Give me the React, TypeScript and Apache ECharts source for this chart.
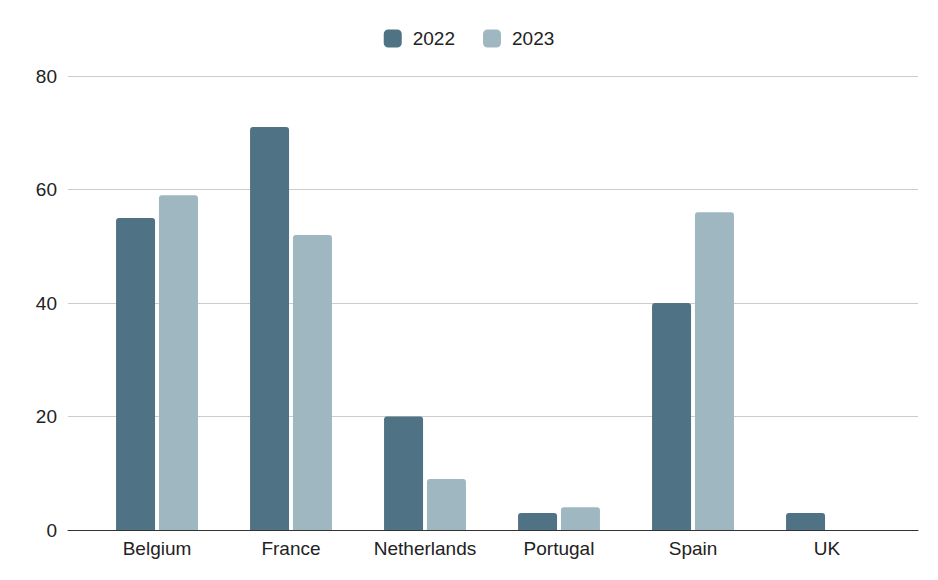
import React, { useEffect, useRef } from "react";
import * as echarts from "echarts";

const categories = ["Belgium", "France", "Netherlands", "Portugal", "Spain", "UK"];
const values2022 = [55, 71, 20, 3, 40, 3];
const values2023 = [59, 52, 9, 4, 56, null];
const seriesNames = ["2022", "2023"];
const colors = ["#4f7284", "#9fb7c1"];

export default function App() {
  const ref = useRef<HTMLDivElement>(null);
  useEffect(() => {
    if (!ref.current) return;
    const chart = echarts.init(ref.current, null, { renderer: "svg" });
    const font = "Liberation Sans, Arial, sans-serif";
    chart.setOption({
      animation: false,
      textStyle: { fontFamily: font },
      legend: {
        top: 24,
        left: "center",
        itemWidth: 18,
        itemHeight: 18,
        itemGap: 28,
        icon: "roundRect",
        textStyle: { fontSize: 19, color: "#222", fontFamily: font, padding: [0, 0, 0, 6] },
        data: seriesNames,
      },
      grid: [
        { left: 68, right: 20, top: 76, bottom: 50 },
        { left: 90, right: 44, top: 76, bottom: 50 },
      ],
      xAxis: [
        {
          type: "value",
          gridIndex: 0,
          min: 0,
          max: 1,
          axisLabel: { show: false },
          axisTick: { show: false },
          splitLine: { show: false },
          axisLine: { show: true, lineStyle: { color: "#333", width: 1 } },
        },
        {
          type: "category",
          gridIndex: 1,
          data: categories,
          axisLine: { show: false },
          axisTick: { show: false },
          axisLabel: { fontSize: 19, color: "#222", margin: 9, fontFamily: font },
        },
      ],
      yAxis: [
        {
          type: "value",
          gridIndex: 0,
          min: 0,
          max: 80,
          interval: 20,
          axisLine: { show: false },
          axisTick: { show: false },
          axisLabel: { fontSize: 19, color: "#222", margin: 11, fontFamily: font },
          splitLine: { lineStyle: { color: "#cccccc", width: 1 } },
        },
        {
          type: "value",
          gridIndex: 1,
          min: 0,
          max: 80,
          interval: 20,
          show: false,
        },
      ],
      series: [
        {
          name: seriesNames[0],
          type: "bar",
          xAxisIndex: 1,
          yAxisIndex: 1,
          data: values2022,
          barWidth: 39,
          barGap: "10%",
          itemStyle: { color: colors[0], borderRadius: [3, 3, 0, 0] },
        },
        {
          name: seriesNames[1],
          type: "bar",
          xAxisIndex: 1,
          yAxisIndex: 1,
          data: values2023,
          barWidth: 39,
          barGap: "10%",
          itemStyle: { color: colors[1], borderRadius: [3, 3, 0, 0] },
        },
      ],
    });
    return () => chart.dispose();
  }, []);
  return (
    <div
      ref={ref}
      style={{ position: "fixed", left: 0, top: 0, width: 938, height: 580, background: "#fff" }}
    />
  );
}
